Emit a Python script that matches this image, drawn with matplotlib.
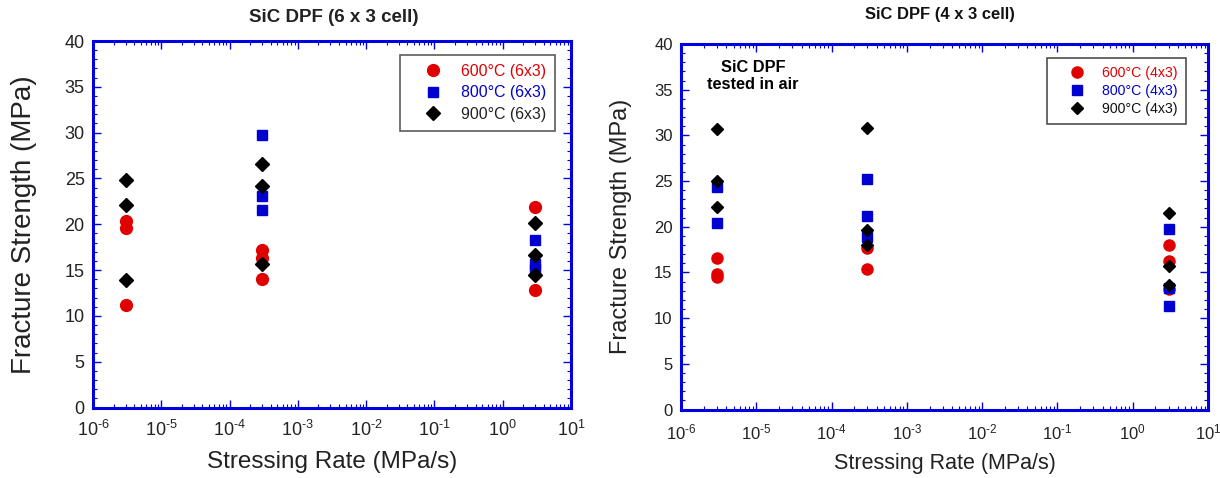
import matplotlib
matplotlib.use("Agg")
import matplotlib.pyplot as plt
import numpy as np
from matplotlib.ticker import LogLocator, MultipleLocator, NullFormatter, FuncFormatter

plt.rcParams['font.family'] = ['Liberation Sans', 'DejaVu Sans']
plt.rcParams['mathtext.fontset'] = 'custom'
plt.rcParams['mathtext.rm'] = 'Liberation Sans'
plt.rcParams['mathtext.default'] = 'regular'
plt.rcParams['axes.unicode_minus'] = False

# ---------------- data: 6 x 3 cell ----------------
rate600_6 = [3e-6, 3e-6, 3e-6, 3e-4, 3e-4, 3e-4, 3, 3]
str600_6 = [20.4, 19.6, 11.2, 17.15, 16.3, 14.05, 21.9, 12.85]
rate800_6 = [3e-4, 3e-4, 3e-4, 3, 3, 3]
str800_6 = [29.75, 23.1, 21.6, 18.25, 15.7, 15.1]
rate900_6 = [3e-6, 3e-6, 3e-6, 3e-4, 3e-4, 3e-4, 3, 3, 3]
str900_6 = [24.8, 22.15, 13.9, 26.6, 24.2, 15.7, 20.1, 16.6, 14.5]

# ---------------- data: 4 x 3 cell ----------------
rate600_4 = [3e-6, 3e-6, 3e-6, 3e-4, 3e-4, 3, 3, 3]
str600_4 = [16.6, 14.8, 14.5, 17.7, 15.4, 18.0, 16.3, 13.2]
rate800_4 = [3e-6, 3e-6, 3e-4, 3e-4, 3e-4, 3, 3, 3]
str800_4 = [24.3, 20.4, 25.2, 21.2, 18.9, 19.8, 13.3, 11.3]
rate900_4 = [3e-6, 3e-6, 3e-6, 3e-4, 3e-4, 3e-4, 3, 3, 3]
str900_4 = [30.7, 25.0, 22.2, 30.8, 19.6, 18.0, 21.5, 15.7, 13.6]

labels6 = ['600°C (6x3)', '800°C (6x3)', '900°C (6x3)']
labels4 = ['600°C (4x3)', '800°C (4x3)', '900°C (4x3)']
titles = ['SiC DPF (6 x 3 cell)', 'SiC DPF (4 x 3 cell)']
note = 'SiC DPF\ntested in air'
xlabel = 'Stressing Rate (MPa/s)'
ylabel = 'Fracture Strength (MPa)'

RED = '#E00000'
BLUE = '#0000D0'
FRAME = '#0000E0'

fig = plt.figure(figsize=(12.2, 4.78), dpi=100)
axL = fig.add_axes([93/1220, 1-407.5/478, (571-93)/1220, (407.5-41)/478])
axR = fig.add_axes([681/1220, 1-409.5/478, (1208-681)/1220, (409.5-44)/478])


def pow_fmt(v, pos):
    e = int(round(np.log10(v)))
    return r'$10^{\text{%d}}$' % e


def style(ax, tsize, xl_size, yl_size, ylpad):
    ax.set_xscale('log')
    ax.set_xlim(1e-6, 10)
    ax.set_ylim(0, 40)
    ax.xaxis.set_major_locator(LogLocator(base=10, numticks=20))
    ax.xaxis.set_major_formatter(FuncFormatter(pow_fmt))
    ax.xaxis.set_minor_locator(LogLocator(base=10, subs=range(2, 10), numticks=20))
    ax.xaxis.set_minor_formatter(NullFormatter())
    ax.yaxis.set_major_locator(MultipleLocator(5))
    ax.yaxis.set_minor_locator(MultipleLocator(1))
    for s in ax.spines.values():
        s.set_color(FRAME)
        s.set_linewidth(2.2)
    ax.tick_params(which='both', direction='in', top=True, right=True,
                   color=FRAME, labelcolor='#222222', labelsize=tsize)
    ax.tick_params(which='major', length=6, width=1.0)
    ax.tick_params(which='minor', length=3, width=0.8)
    ax.tick_params(axis='x', which='major', pad=9)
    ax.tick_params(axis='y', which='major', pad=6)
    ax.set_xlabel(xlabel, fontsize=xl_size, color='#222222', labelpad=8)
    ax.set_ylabel(ylabel, fontsize=yl_size, color='#222222', labelpad=ylpad)


def plot(ax, r6, s6, r8, s8, r9, s9, labels, msz):
    h1, = ax.plot(r6, s6, 'o', color=RED, ms=msz, mec=RED, linestyle='none', label=labels[0])
    h2, = ax.plot(r8, s8, 's', color=BLUE, ms=msz-1, mec=BLUE, linestyle='none', label=labels[1])
    h3, = ax.plot(r9, s9, 'D', color='black', ms=msz-1.5, mec='black', linestyle='none', label=labels[2])
    return [h1, h2, h3]


hL = plot(axL, rate600_6, str600_6, rate800_6, str800_6, rate900_6, str900_6, labels6, 8.5)
hR = plot(axR, rate600_4, str600_4, rate800_4, str800_4, rate900_4, str900_4, labels4, 8)

style(axL, 13, 17.5, 20, 20)
style(axR, 12, 15.5, 17, 16)

legL = axL.legend(handles=hL, loc='upper right', bbox_to_anchor=(0.967, 0.962), borderaxespad=0,
                  fontsize=11.4, frameon=True, fancybox=False, edgecolor='#333333',
                  labelcolor=[RED, BLUE, '#222222'], handletextpad=0.2, borderpad=0.57,
                  labelspacing=0.4, handlelength=3.1)
legL.get_frame().set_linewidth(1.2)
legR = axR.legend(handles=hR, loc='upper right', bbox_to_anchor=(0.958, 0.962), borderaxespad=0,
                  fontsize=10.2, frameon=True, fancybox=False, edgecolor='#222222',
                  labelcolor=[RED, BLUE, '#111111'], handletextpad=0.2, borderpad=0.6,
                  labelspacing=0.26, handlelength=3.1)
legR.get_frame().set_linewidth(1.2)

fig.text(334/1220, 1-17/478, titles[0], fontsize=13.5, fontweight='bold', ha='center', va='center',
         color='#222222')
fig.text(940/1220, 1-15/478, titles[1], fontsize=11.9, fontweight='bold', ha='center', va='center',
         color='#111111')

axR.text(0.137, 0.912, note, transform=axR.transAxes, fontsize=11.8,
         fontweight='bold', ha='center', va='center', linespacing=1.2)

fig.savefig('out.png', dpi=100)
